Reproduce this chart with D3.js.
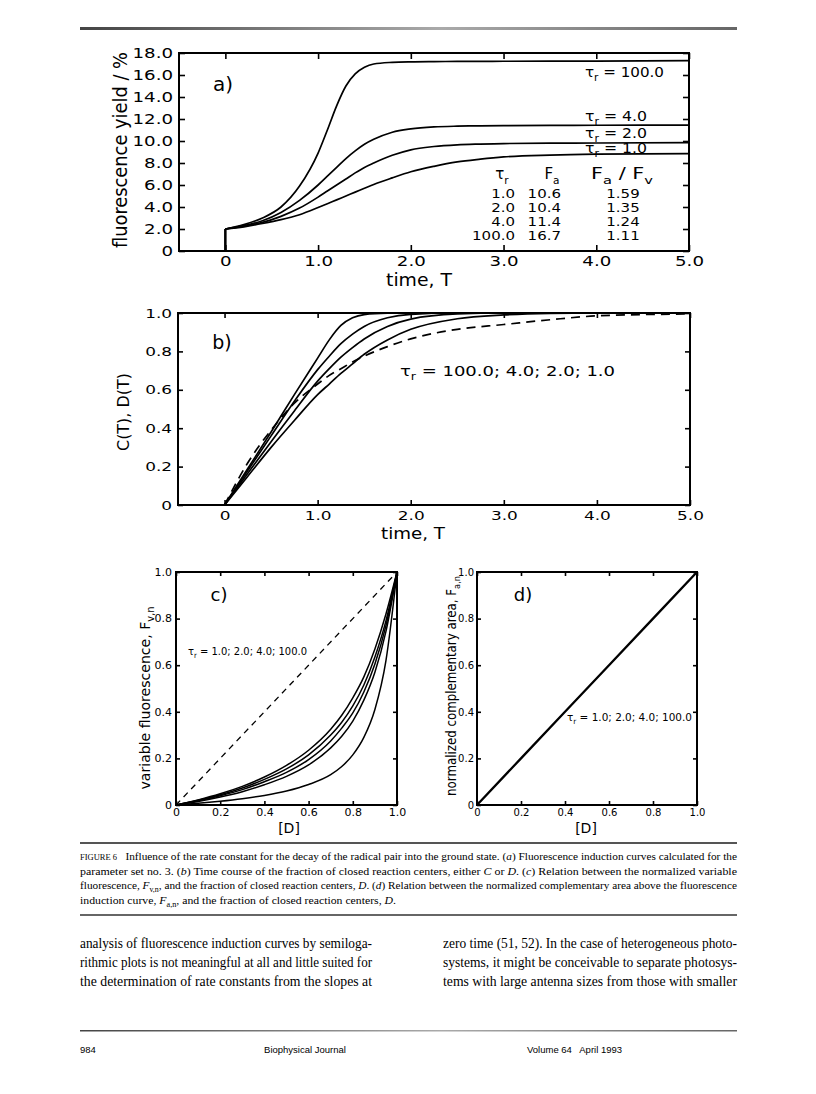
<!DOCTYPE html>
<html><head><meta charset="utf-8">
<script src="https://cdn.jsdelivr.net/npm/d3@7"></script>
<style>body{margin:0;background:#fff} text{white-space:pre}</style>
</head><body>
<svg id="page" width="816" height="1094"></svg>
<script>
// ---------- DATA ----------
// panel a: fluorescence yield vs time T
const timeA    = [0,0.2,0.4,0.6,0.8,1.0,1.1,1.2,1.3,1.4,1.5,1.6,1.8,2.0,2.25,2.5,2.75,3.0,3.5,4.0,5.0];
const fyTau100 = [2.0,2.4,3.0,4.0,5.9,8.9,11.0,13.2,15.0,16.1,16.7,17.0,17.15,17.2,17.22,17.23,17.24,17.25,17.26,17.27,17.3];
const fyTau4   = [2.0,2.3,2.75,3.5,4.6,6.0,6.8,7.6,8.4,9.1,9.7,10.15,10.8,11.1,11.28,11.35,11.38,11.4,11.42,11.43,11.45];
const fyTau2   = [2.0,2.25,2.6,3.15,3.9,4.9,5.45,6.0,6.55,7.1,7.6,8.0,8.7,9.2,9.5,9.65,9.72,9.77,9.8,9.82,9.85];
const fyTau1   = [2.0,2.2,2.5,2.85,3.3,3.95,4.3,4.65,5.0,5.35,5.7,6.05,6.65,7.2,7.7,8.1,8.35,8.55,8.72,8.8,8.85];
const xTicksA = [0,1,2,3,4,5];
const xTickLabelsA = ["0","1.0","2.0","3.0","4.0","5.0"];
const yTicksA = [0,2,4,6,8,10,12,14,16,18];
const yTickLabelsA = ["0","2.0","4.0","6.0","8.0","10.0","12.0","14.0","16.0","18.0"];
const tauValues = ["1.0","2.0","4.0","100.0"];
const faValues  = ["10.6","10.4","11.4","16.7"];
const faFvValues = ["1.59","1.35","1.24","1.11"];

// panel b: C(T), D(T)
const timeB   = [0,0.25,0.5,0.75,1.0,1.125,1.25,1.375,1.5,1.75,2.0,2.5,3.0,3.5,4.0,5.0];
const cTau100 = [0,0.19,0.38,0.575,0.765,0.86,0.935,0.975,0.992,0.999,1,1,1,1,1,1];
const cTau4   = [0,0.18,0.36,0.54,0.705,0.775,0.84,0.89,0.93,0.975,0.993,1,1,1,1,1];
const cTau2   = [0,0.165,0.33,0.49,0.645,0.71,0.77,0.82,0.865,0.93,0.968,0.995,1,1,1,1];
const cTau1   = [0,0.15,0.3,0.44,0.575,0.63,0.685,0.735,0.785,0.86,0.915,0.97,0.99,0.998,1,1];
const dashB   = [0,0.22,0.39,0.53,0.63,0.675,0.71,0.745,0.775,0.825,0.865,0.915,0.94,0.965,0.985,0.995];
const yTicksB = [0,0.2,0.4,0.6,0.8,1.0];
const yTickLabelsB = ["0","0.2","0.4","0.6","0.8","1.0"];

// panel c: Fv,n vs [D]
const dC   = [0,0.1,0.2,0.3,0.4,0.5,0.6,0.7,0.75,0.8,0.85,0.9,0.95,1.0];
const fvn1 = [0,0.022,0.048,0.08,0.12,0.17,0.235,0.325,0.385,0.46,0.55,0.67,0.82,1.0];
const fvn2 = [0,0.02,0.044,0.073,0.11,0.155,0.215,0.3,0.355,0.425,0.515,0.635,0.79,1.0];
const fvn3 = [0,0.018,0.04,0.066,0.1,0.14,0.195,0.275,0.33,0.395,0.485,0.605,0.77,1.0];
const fvn4 = [0,0.015,0.034,0.057,0.087,0.123,0.172,0.245,0.295,0.36,0.45,0.57,0.745,1.0];
const fvn5 = [0,0.007,0.016,0.027,0.041,0.06,0.088,0.13,0.165,0.215,0.29,0.41,0.62,1.0];
const diagX = [0,1.0];
const diagY = [0,1.0];

// panel d: Fa,n vs [D]
const dD   = [0,0.2,0.4,0.6,0.8,1.0];
const faN  = [0,0.2,0.4,0.6,0.8,1.0];
const unitTicks = [0,0.2,0.4,0.6,0.8,1.0];
const unitTickLabels = ["0","0.2","0.4","0.6","0.8","1.0"];

// ---------- HELPERS ----------
const svg = d3.select("#page");
const FONT = "DejaVu Sans";
const SERIF = "Liberation Serif";

function rich(g, x, y, parts, o) {
  const t = g.append("text")
    .attr("font-family", o.family || FONT).attr("font-size", o.size)
    .attr("text-anchor", o.anchor || "start").attr("fill", "#000");
  if (o.transform) t.attr("transform", o.transform); else t.attr("x", x).attr("y", y);
  if (o.len) t.attr("textLength", o.len).attr("lengthAdjust", "spacingAndGlyphs");
  let shifted = 0;
  parts.forEach(p => {
    const s = typeof p === "string" ? {t: p} : p;
    const ts = t.append("tspan").text(s.t);
    const want = s.sub ? o.size * 0.3 : 0;
    if (want !== shifted) { ts.attr("dy", want - shifted); shifted = want; }
    if (s.sub) ts.attr("font-size", o.size * 0.7);
    if (s.i) ts.attr("font-style", "italic");
    if (s.sc) ts.attr("font-size", o.size * 0.75);
  });
  return t;
}

function styleAxis(sel, size, sx) {
  sel.attr("font-family", FONT).attr("font-size", size);
  sel.select(".domain").remove();
  sel.selectAll("line").attr("stroke", "#000").attr("stroke-width", 1.6);
  sel.selectAll("text").attr("fill", "#000").each(function () {
    const t = d3.select(this);
    const x = +t.attr("x") || 0;
    t.attr("x", x / sx).attr("transform", `scale(${sx},1)`);
  });
}

function frame(x, y) {
  const [x0, x1] = x.range(), [y0, y1] = y.range();
  svg.append("rect").attr("x", x0).attr("y", y1).attr("width", x1 - x0).attr("height", y0 - y1)
    .attr("fill", "none").attr("stroke", "#000").attr("stroke-width", 2);
}

function axes(x, y, o) {
  const [x0, x1] = x.range(), [y0, y1] = y.range();
  const L = svg.append("g").attr("transform", `translate(${x0},0)`)
    .call(d3.axisLeft(y).tickValues(o.yTicks).tickFormat((d, i) => o.yLabels[i]).tickSize(-o.tl).tickPadding(o.pad));
  styleAxis(L, o.size, o.sx);
  const R = svg.append("g").attr("transform", `translate(${x1},0)`)
    .call(d3.axisRight(y).tickValues(o.yTicks).tickFormat("").tickSize(-o.tl));
  styleAxis(R, o.size, 1);
  const B = svg.append("g").attr("transform", `translate(0,${y0})`)
    .call(d3.axisBottom(x).tickValues(o.xTicks).tickFormat((d, i) => o.xLabels[i]).tickSize(-o.tl).tickPadding(o.padB));
  styleAxis(B, o.size, o.sx);
  const T = svg.append("g").attr("transform", `translate(0,${y1})`)
    .call(d3.axisTop(x).tickValues(o.xTicks).tickFormat("").tickSize(-o.tl));
  styleAxis(T, o.size, 1);
}

function drawLine(x, y, xs, ys, o = {}) {
  const pts = xs.map((v, i) => [v, ys[i]]);
  svg.append("path").datum(pts)
    .attr("d", d3.line().x(d => x(d[0])).y(d => y(d[1])).curve(o.curve || d3.curveMonotoneX))
    .attr("fill", "none").attr("stroke", "#000").attr("stroke-width", o.w || 1.7)
    .attr("stroke-dasharray", o.dash || null).attr("stroke-linejoin", "round");
}

const tau = rest => ["τ", {t: "r", sub: true}, rest];

// ---------- PAGE RULES ----------
const defs = svg.append("defs");
const grad = defs.append("linearGradient").attr("id", "rule");
grad.append("stop").attr("offset", "0%").attr("stop-color", "#444");
grad.append("stop").attr("offset", "55%").attr("stop-color", "#aaa");
grad.append("stop").attr("offset", "100%").attr("stop-color", "#666");
svg.append("rect").attr("x", 80).attr("y", 27).attr("width", 657).attr("height", 3).attr("fill", "url(#rule)");

// ---------- PANEL A ----------
const xA = d3.scaleLinear().domain([-0.5, 5]).range([179, 689]);
const yA = d3.scaleLinear().domain([0, 18]).range([251, 53]);
frame(xA, yA);
axes(xA, yA, {xTicks: xTicksA, xLabels: xTickLabelsA, yTicks: yTicksA, yLabels: yTickLabelsA, tl: 6, pad: 6, padB: 5, size: 14, sx: 1.3});
[fyTau100, fyTau4, fyTau2, fyTau1].forEach(s => {
  drawLine(xA, yA, [0, 0], [0, s[0]], {curve: d3.curveLinear});
  drawLine(xA, yA, timeA, s);
});
const gA = svg.append("g");
rich(gA, 0, 0, ["fluorescence yield / %"], {size: 20, anchor: "middle", len: 196, transform: "translate(127,150) rotate(-90)"});
rich(gA, 0, 0, ["time, T"], {size: 18, anchor: "middle", len: 66, transform: "translate(419,286)"});
rich(gA, 223, 91, ["a)"], {size: 20, anchor: "middle"});
rich(gA, 585, 77, tau(" = 100.0"), {size: 14, len: 79});
rich(gA, 585, 121, tau(" = 4.0"), {size: 14, len: 62});
rich(gA, 585, 138, tau(" = 2.0"), {size: 14, len: 62});
rich(gA, 585, 153, tau(" = 1.0"), {size: 14, len: 62});
// table
rich(gA, 502, 179, ["τ", {t: "r", sub: true}], {size: 15, anchor: "middle"});
rich(gA, 552, 179, ["F", {t: "a", sub: true}], {size: 15, anchor: "middle"});
rich(gA, 622, 179, ["F", {t: "a", sub: true}, " / F", {t: "v", sub: true}], {size: 15, anchor: "middle", len: 62});
const rowY = [198, 212, 226, 240];
tauValues.forEach((v, i) => {
  rich(gA, 0, 0, [v], {size: 12.5, anchor: "end", transform: `translate(515,${rowY[i]}) scale(1.2,1)`});
  rich(gA, 0, 0, [faValues[i]], {size: 12.5, anchor: "end", transform: `translate(561,${rowY[i]}) scale(1.2,1)`});
  rich(gA, 0, 0, [faFvValues[i]], {size: 12.5, anchor: "middle", transform: `translate(623,${rowY[i]}) scale(1.2,1)`});
});

// ---------- PANEL B ----------
const xB = d3.scaleLinear().domain([-0.5, 5]).range([178, 690]);
const yB = d3.scaleLinear().domain([0, 1]).range([505, 313]);
frame(xB, yB);
axes(xB, yB, {xTicks: xTicksA, xLabels: xTickLabelsA, yTicks: yTicksB, yLabels: yTickLabelsB, tl: 5, pad: 6, padB: 6, size: 13, sx: 1.3});
[cTau100, cTau4, cTau2, cTau1].forEach(s => drawLine(xB, yB, timeB, s));
drawLine(xB, yB, timeB, dashB, {dash: "9,6"});
const gB = svg.append("g");
rich(gB, 0, 0, ["C(T), D(T)"], {size: 15, anchor: "middle", len: 78, transform: "translate(129,412) rotate(-90)"});
rich(gB, 0, 0, ["time, T"], {size: 15, anchor: "middle", len: 64, transform: "translate(413,539)"});
rich(gB, 222, 349, ["b)"], {size: 19, anchor: "middle"});
rich(gB, 400, 376, tau(" = 100.0; 4.0; 2.0; 1.0"), {size: 14, len: 215});

// ---------- PANEL C ----------
const xC = d3.scaleLinear().domain([0, 1]).range([176, 397]);
const yC = d3.scaleLinear().domain([0, 1]).range([805, 572]);
frame(xC, yC);
axes(xC, yC, {xTicks: unitTicks, xLabels: unitTickLabels, yTicks: unitTicks, yLabels: unitTickLabels, tl: 4, pad: 4, padB: 4, size: 10.5, sx: 1.05});
[fvn1, fvn2, fvn3, fvn4, fvn5].forEach(s => drawLine(xC, yC, dC, s, {w: 1.5}));
drawLine(xC, yC, diagX, diagY, {dash: "6,5", w: 1.3, curve: d3.curveLinear});
const gC = svg.append("g");
rich(gC, 0, 0, ["variable fluorescence, F", {t: "v,n", sub: true}], {size: 14, anchor: "middle", len: 183, transform: "translate(150,698) rotate(-90)"});
rich(gC, 289, 833, ["[D]"], {size: 14, anchor: "middle"});
rich(gC, 219, 601, ["c)"], {size: 18, anchor: "middle"});
rich(gC, 188, 655, tau(" = 1.0; 2.0; 4.0; 100.0"), {size: 11, len: 119});

// ---------- PANEL D ----------
const xD = d3.scaleLinear().domain([0, 1]).range([477, 697]);
const yD = d3.scaleLinear().domain([0, 1]).range([805, 572]);
frame(xD, yD);
axes(xD, yD, {xTicks: unitTicks, xLabels: unitTickLabels, yTicks: unitTicks, yLabels: unitTickLabels, tl: 4, pad: 3, padB: 4, size: 10, sx: 1.0});
drawLine(xD, yD, dD, faN, {w: 2.3, curve: d3.curveLinear});
const gD = svg.append("g");
rich(gD, 0, 0, ["normalized complementary area, F", {t: "a,n", sub: true}], {size: 13.5, anchor: "middle", len: 220, transform: "translate(456,686) rotate(-90)"});
rich(gD, 586, 833, ["[D]"], {size: 14, anchor: "middle"});
rich(gD, 523, 601, ["d)"], {size: 18, anchor: "middle"});
rich(gD, 567, 721, tau(" = 1.0; 2.0; 4.0; 100.0"), {size: 11, len: 125});

// ---------- CAPTION ----------
svg.append("rect").attr("x", 80).attr("y", 842).attr("width", 657).attr("height", 2).attr("fill", "#555");
svg.append("rect").attr("x", 80).attr("y", 914).attr("width", 657).attr("height", 2).attr("fill", "#666");
const gCap = svg.append("g");
const capO = {family: SERIF, size: 11};
rich(gCap, 80, 860, [{t: "FIGURE 6", sc: true}, "   Influence of the rate constant for the decay of the radical pair into the ground state. (", {t: "a", i: true}, ") Fluorescence induction curves calculated for the"], {...capO, len: 657});
rich(gCap, 80, 874.5, ["parameter set no. 3. (", {t: "b", i: true}, ") Time course of the fraction of closed reaction centers, either ", {t: "C", i: true}, " or ", {t: "D", i: true}, ". (", {t: "c", i: true}, ") Relation between the normalized variable"], {...capO, len: 657});
rich(gCap, 80, 889, ["fluorescence, ", {t: "F", i: true}, {t: "v,n", sub: true}, ", and the fraction of closed reaction centers, ", {t: "D", i: true}, ". (", {t: "d", i: true}, ") Relation between the normalized complementary area above the fluorescence"], {...capO, len: 657});
rich(gCap, 80, 904, ["induction curve, ", {t: "F", i: true}, {t: "a,n", sub: true}, ", and the fraction of closed reaction centers, ", {t: "D", i: true}, "."], {...capO, len: 316});

// ---------- BODY TEXT ----------
const leftLines = ["analysis of fluorescence induction curves by semiloga-", "rithmic plots is not meaningful at all and little suited for", "the determination of rate constants from the slopes at"];
const rightLines = ["zero time (51, 52). In the case of heterogeneous photo-", "systems, it might be conceivable to separate photosys-", "tems with large antenna sizes from those with smaller"];
const bodyY = [948, 967, 986];
leftLines.forEach((s, i) => rich(svg, 80, bodyY[i], [s], {family: SERIF, size: 14, len: 292}));
rightLines.forEach((s, i) => rich(svg, 443, bodyY[i], [s], {family: SERIF, size: 14, len: 294}));

// ---------- FOOTER ----------
svg.append("rect").attr("x", 80).attr("y", 1030).attr("width", 657).attr("height", 1.5).attr("fill", "url(#rule)");
rich(svg, 80, 1053, ["984"], {family: "Liberation Sans", size: 9.5});
rich(svg, 305, 1053, ["Biophysical Journal"], {family: "Liberation Sans", size: 9.5, anchor: "middle"});
rich(svg, 527, 1053, ["Volume 64   April 1993"], {family: "Liberation Sans", size: 9.5});
</script>
</body></html>
